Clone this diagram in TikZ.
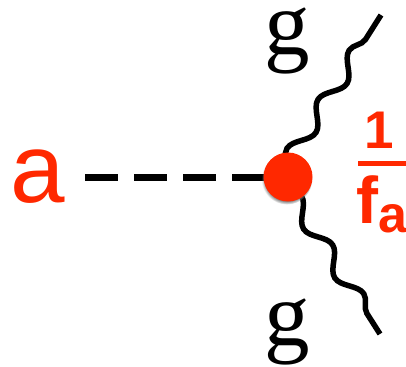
\documentclass[tikz,border=0pt]{standalone}
\usepackage{fontspec}
\setmainfont{Liberation Serif}
\newfontfamily\labelfont{Liberation Sans}
\usepackage{tikz}
\usetikzlibrary{decorations.pathmorphing,shadows}

\definecolor{axionred}{RGB}{255,40,0}

\tikzset{
  axionline/.style={line width=7pt, dash pattern=on 33pt off 16pt},
  gluon/.style={line width=5.5pt, decorate,
    decoration={snake, amplitude=8pt, segment length=58pt}},
  vertex/.style={circle, fill=axionred, minimum size=49pt, inner sep=0pt,
    circular drop shadow={shadow xshift=-1pt, shadow yshift=-2pt, shadow scale=1.04}},
  redlabel/.style={text=axionred, font=\labelfont},
  glabel/.style={anchor=base, inner sep=0pt, font=\fontsize{91}{91}\selectfont}
}

\begin{document}
\begin{tikzpicture}[x=1pt,y=-1pt]
  \useasboundingbox (0,0) rectangle (406,366);
  \coordinate (vc) at (288,177);
  \coordinate (gts) at (284,168);
  \coordinate (gt) at (381,15);
  \coordinate (gbs) at (285,185);
  \coordinate (gb) at (380,334);
  \node[redlabel, anchor=base, font=\labelfont\fontsize{98}{98}\selectfont] (a) at (38,202) {a};
  % axion line and the two gluons
  \draw[axionline, shorten <=16.5pt] (a.east |- vc) -- (vc);
  \draw[gluon] (gts) -- (gt);
  \draw[gluon] (gbs) -- (gb);
  \node[vertex] (v) at (vc) {};
  \node[glabel] (g1) at (287,55) {g};
  \node[glabel] (g2) at (287,345) {g};
  % coupling
  \node[redlabel, anchor=base, font=\labelfont\bfseries\fontsize{53}{53}\selectfont] (one) at (379,148) {1};
  \draw[axionred, line width=5pt] (358,163.5) -- (406,163.5);
  \node[redlabel, anchor=base west, inner sep=0pt, font=\labelfont\bfseries\fontsize{66}{66}\selectfont] (fa) at (356,223)
    {f\raisebox{-9pt}{\fontsize{52}{52}\selectfont a}};
\end{tikzpicture}
\end{document}
